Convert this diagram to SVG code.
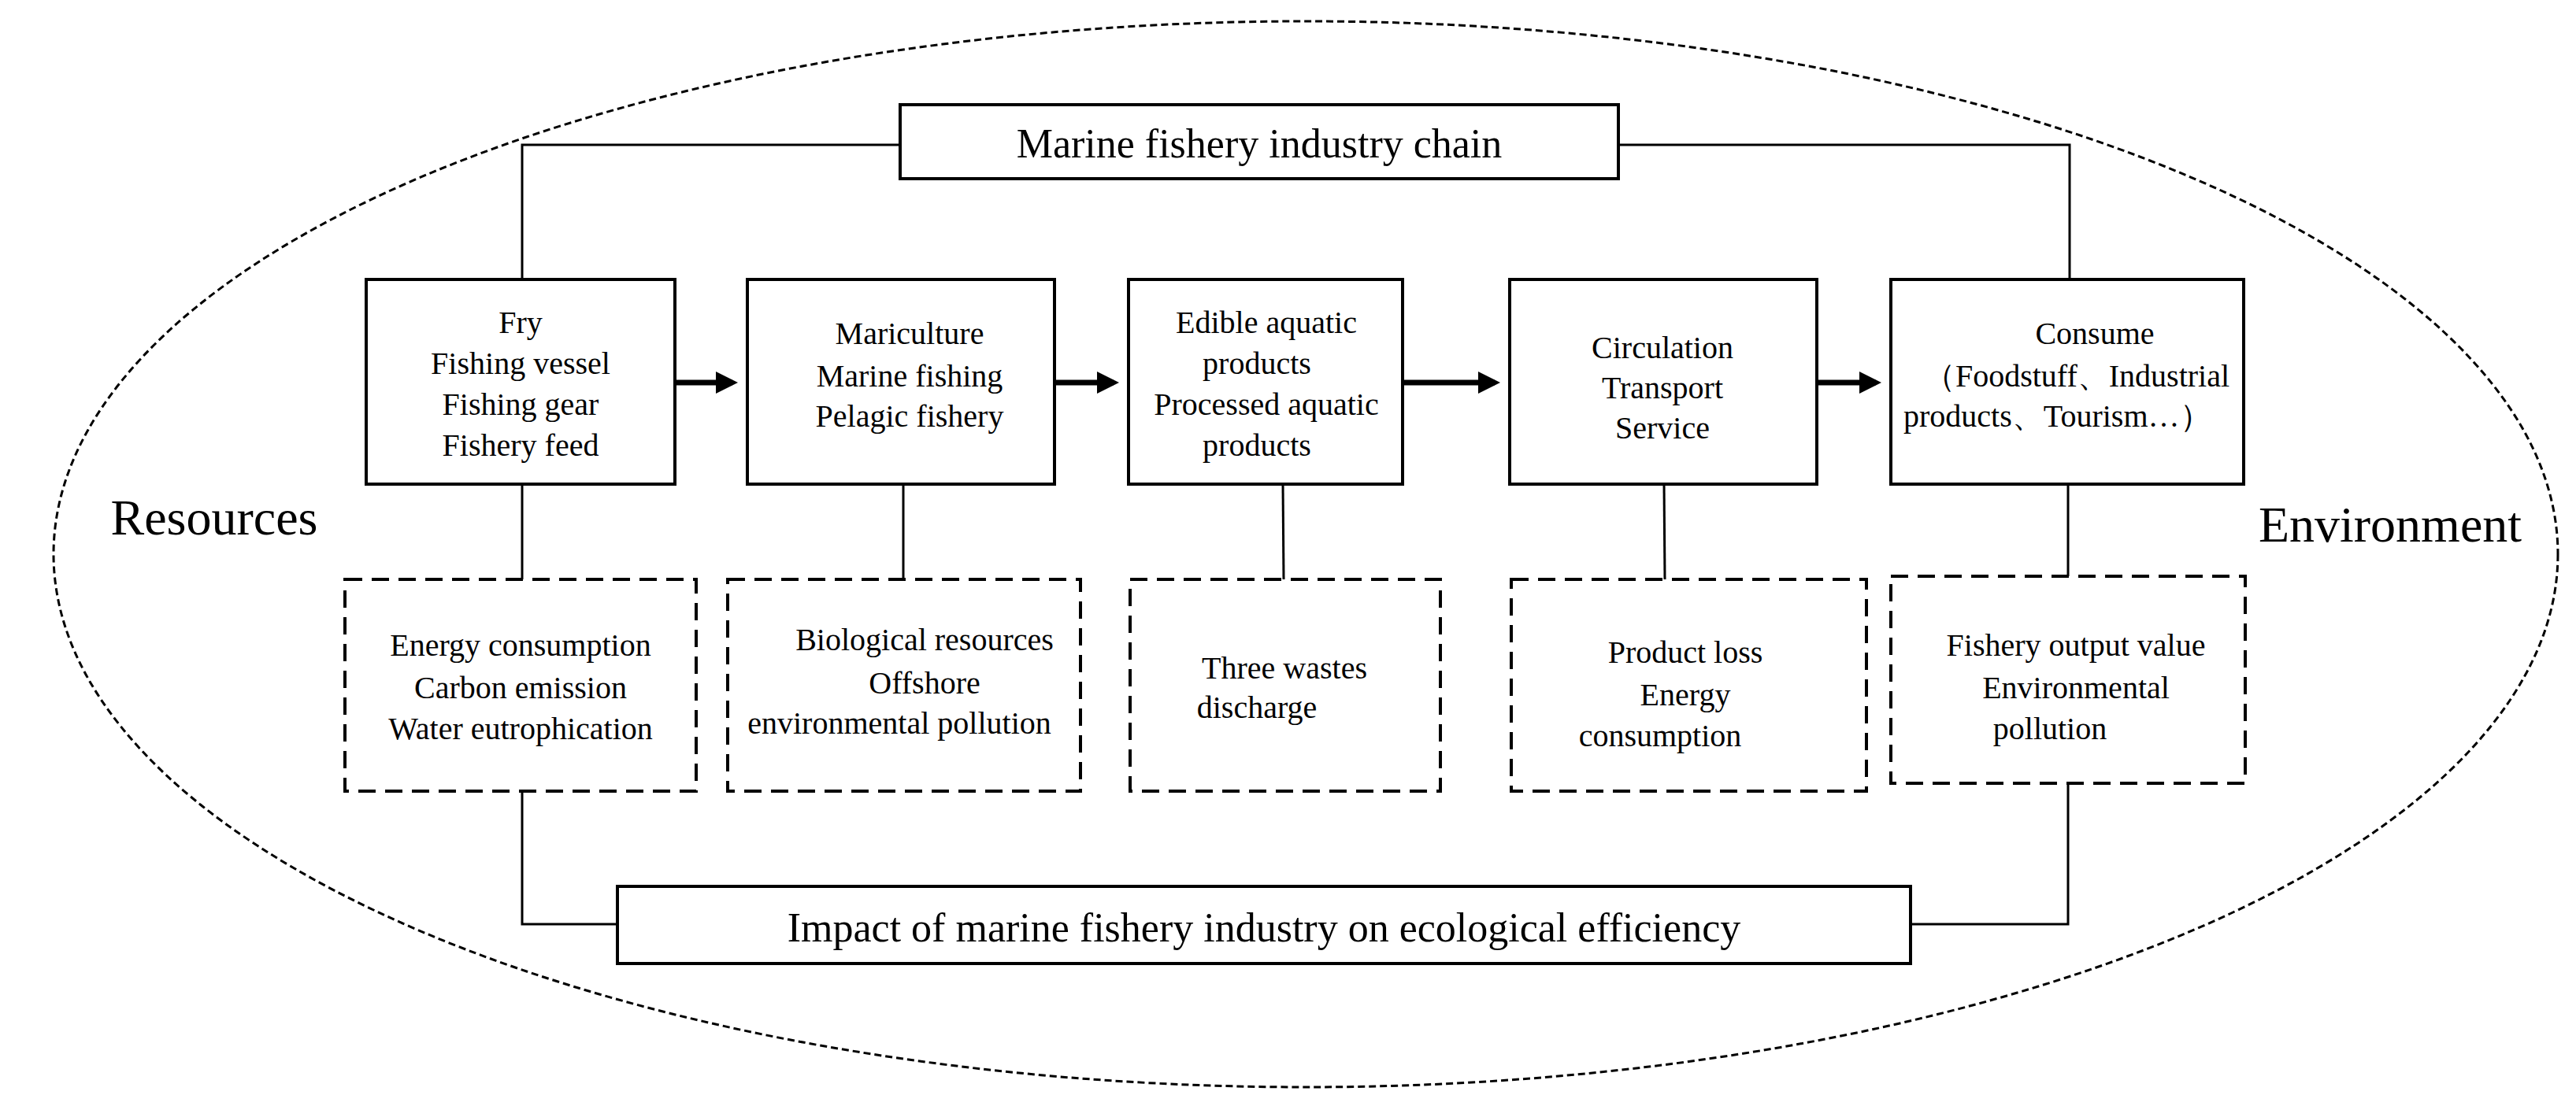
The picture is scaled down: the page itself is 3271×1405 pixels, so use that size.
<svg xmlns="http://www.w3.org/2000/svg" width="3271" height="1405" viewBox="0 0 3271 1405">
<style>
text{font-family:"Liberation Serif","Times New Roman",serif;fill:#000;text-anchor:middle}
.t{font-size:40px}
.big{font-size:52px}
.side{font-size:64px}
.box{fill:#fff;stroke:#000;stroke-width:4}
.dash{fill:#fff;stroke:#000;stroke-width:4;stroke-dasharray:22 12}
.ln{fill:none;stroke:#000;stroke-width:3}
.ar{fill:none;stroke:#000;stroke-width:7;marker-end:url(#ah)}
</style>
<defs><marker id="ah" markerWidth="4" markerHeight="4" refX="3" refY="2" orient="auto"><path d="M0,0 L4,2 L0,4 Z" fill="#000"/></marker></defs>
<rect width="3271" height="1405" fill="#fff"/>
<ellipse cx="1658" cy="704" rx="1590" ry="677" fill="none" stroke="#000" stroke-width="3" stroke-dasharray="9 5"/>
<g id="connectors">
<polyline class="ln" points="663,355 663,184 1143,184"/>
<polyline class="ln" points="2055,184 2628,184 2628,355"/>
<polyline class="ln" points="663,1005 663,1174 784,1174"/>
<polyline class="ln" points="2426,1174 2626,1174 2626,995"/>
<line class="ln" x1="663" y1="615" x2="663" y2="736"/>
<line class="ln" x1="1147" y1="615" x2="1147" y2="736"/>
<line class="ln" x1="1629" y1="615" x2="1630" y2="736"/>
<line class="ln" x1="2113" y1="615" x2="2114" y2="736"/>
<line class="ln" x1="2626" y1="615" x2="2626" y2="732"/>
<line class="ar" x1="857" y1="486" x2="930" y2="486"/>
<line class="ar" x1="1339" y1="486" x2="1414" y2="486"/>
<line class="ar" x1="1781" y1="486" x2="1898" y2="486"/>
<line class="ar" x1="2307" y1="486" x2="2382" y2="486"/>
</g>
<g id="title"><rect class="box" x="1143" y="133" width="912" height="94"/><text class="big" x="1599" y="200">Marine fishery industry chain</text></g>
<g id="impact"><rect class="box" x="784" y="1126" width="1642" height="98"/><text class="big" x="1605" y="1196">Impact of marine fishery industry on ecological efficiency</text></g>
<g id="resources"><text class="side" x="272" y="679">Resources</text></g>
<g id="environment"><text class="side" x="3035" y="688">Environment</text></g>
<g id="n1"><rect class="box" x="465" y="355" width="392" height="260"/>
<text class="t" x="661" y="423">Fry</text><text class="t" x="661" y="475">Fishing vessel</text><text class="t" x="661" y="527">Fishing gear</text><text class="t" x="661" y="579">Fishery feed</text></g>
<g id="n2"><rect class="box" x="949" y="355" width="390" height="260"/>
<text class="t" x="1155" y="437">Mariculture</text><text class="t" x="1155" y="491">Marine fishing</text><text class="t" x="1155" y="542">Pelagic fishery</text></g>
<g id="n3"><rect class="box" x="1433" y="355" width="348" height="260"/>
<text class="t" x="1608" y="423">Edible aquatic</text><text class="t" x="1596" y="475">products</text><text class="t" x="1608" y="527">Processed aquatic</text><text class="t" x="1596" y="579">products</text></g>
<g id="n4"><rect class="box" x="1917" y="355" width="390" height="260"/>
<text class="t" x="2111" y="455">Circulation</text><text class="t" x="2111" y="506">Transport</text><text class="t" x="2111" y="557">Service</text></g>
<g id="n5"><rect class="box" x="2401" y="355" width="448" height="260"/>
<text class="t" x="2660" y="437">Consume</text><text class="t" x="2637" y="491">（Foodstuff、Industrial</text><text class="t" x="2417" y="542" style="text-anchor:start">products、Tourism…）</text></g>
<g id="d1"><rect class="dash" x="438" y="736" width="446" height="269"/>
<text class="t" x="661" y="833">Energy consumption</text><text class="t" x="661" y="887">Carbon emission</text><text class="t" x="661" y="939">Water eutrophication</text></g>
<g id="d2"><rect class="dash" x="924" y="736" width="448" height="269"/>
<text class="t" x="1174" y="826">Biological resources</text><text class="t" x="1174" y="881">Offshore</text><text class="t" x="1142" y="932">environmental pollution</text></g>
<g id="d3"><rect class="dash" x="1435" y="736" width="394" height="269"/>
<text class="t" x="1631" y="862">Three wastes</text><text class="t" x="1596" y="912">discharge</text></g>
<g id="d4"><rect class="dash" x="1919" y="736" width="451" height="269"/>
<text class="t" x="2140" y="842">Product loss</text><text class="t" x="2140" y="896">Energy</text><text class="t" x="2108" y="948">consumption</text></g>
<g id="d5"><rect class="dash" x="2401" y="732" width="450" height="263"/>
<text class="t" x="2636" y="833">Fishery output value</text><text class="t" x="2636" y="887">Environmental</text><text class="t" x="2603" y="939">pollution</text></g>
</svg>
